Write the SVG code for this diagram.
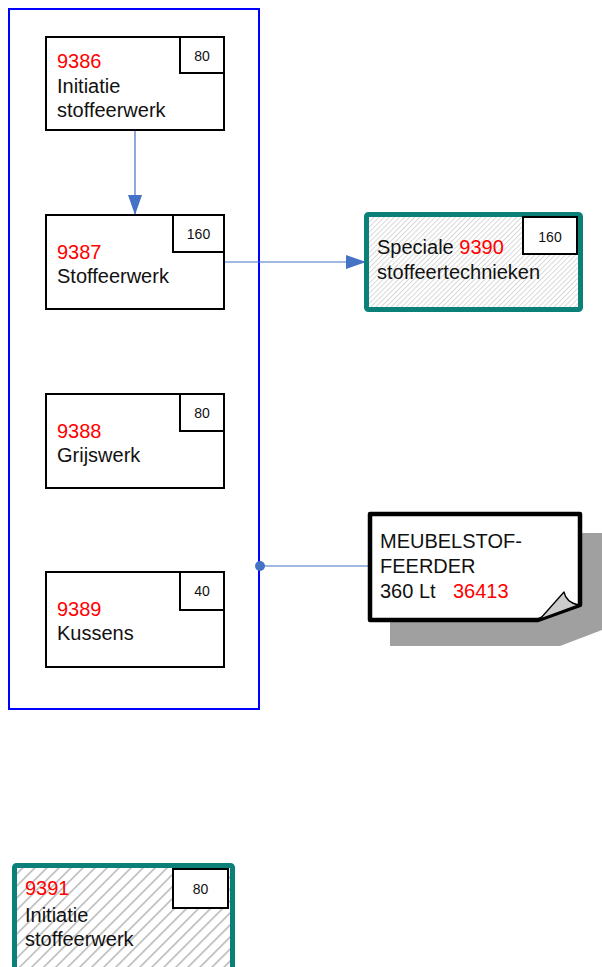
<svg xmlns="http://www.w3.org/2000/svg" width="602" height="967" viewBox="0 0 602 967">
<defs>
<pattern id="hatchFine" patternUnits="userSpaceOnUse" width="3.6" height="3.6" patternTransform="rotate(45)">
<rect width="3.6" height="3.6" fill="#ffffff"/>
<line x1="0" y1="0" x2="0" y2="3.6" stroke="#a0a0a0" stroke-width="0.8"/>
</pattern>
<pattern id="hatchWide" patternUnits="userSpaceOnUse" width="8.5" height="8.5" patternTransform="rotate(45)">
<rect width="8.5" height="8.5" fill="#ffffff"/>
<line x1="0" y1="0" x2="0" y2="8.5" stroke="#b4b4b4" stroke-width="3"/>
</pattern>
<marker id="arrow" viewBox="0 0 20 14" refX="20" refY="7" markerWidth="20" markerHeight="14" markerUnits="userSpaceOnUse" orient="auto">
<path d="M0,0 L20,7 L0,14 Z" fill="#4472c4"/>
</marker>
</defs>
<style>
text{font-family:"Liberation Sans",Arial,sans-serif;fill:#111}
.main{font-size:20px}
.small{font-size:14px;text-anchor:middle}
.red{fill:#ff0000}
.box{fill:#ffffff;stroke:#000;stroke-width:2}
.tag{fill:#ffffff;stroke:#000;stroke-width:2}
.teal{stroke:#0b8078;stroke-width:5}
.conn{stroke:#4472c4;stroke-width:1.2;fill:none}
</style>
<rect id="container" x="9" y="9" width="250" height="700" fill="none" stroke="#0000ff" stroke-width="2"/>
<g id="connectors">
<line class="conn" x1="135" y1="131" x2="135" y2="215" marker-end="url(#arrow)"/>
<line class="conn" x1="224" y1="262" x2="366" y2="262" marker-end="url(#arrow)"/>
<line class="conn" x1="259" y1="566" x2="370" y2="566"/>
<circle cx="260" cy="566" r="5" fill="#4472c4"/>
</g>
<g id="n9386">
<rect class="box" x="46" y="37" width="178" height="93"/>
<rect class="tag" x="180" y="37" width="44" height="36"/>
<text class="small" x="202" y="61">80</text>
<text class="main red" x="57" y="68">9386</text>
<text class="main" x="57" y="93">Initiatie</text>
<text class="main" x="57" y="117">stoffeerwerk</text>
</g>
<g id="n9387">
<rect class="box" x="46" y="215" width="178" height="94"/>
<rect class="tag" x="173" y="215" width="51" height="37"/>
<text class="small" x="198.5" y="239">160</text>
<text class="main red" x="57" y="259">9387</text>
<text class="main" x="57" y="283">Stoffeerwerk</text>
</g>
<g id="n9388">
<rect class="box" x="46" y="394" width="178" height="94"/>
<rect class="tag" x="180" y="394" width="44" height="37"/>
<text class="small" x="202" y="418">80</text>
<text class="main red" x="57" y="438">9388</text>
<text class="main" x="57" y="462">Grijswerk</text>
</g>
<g id="n9389">
<rect class="box" x="46" y="572" width="178" height="95"/>
<rect class="tag" x="180" y="572" width="44" height="38"/>
<text class="small" x="202" y="596">40</text>
<text class="main red" x="57" y="616">9389</text>
<text class="main" x="57" y="640">Kussens</text>
</g>
<g id="n9390">
<rect class="teal" x="366.5" y="214.5" width="214" height="95" rx="2" fill="url(#hatchFine)"/>
<rect class="tag" x="523" y="217" width="54" height="37"/>
<text class="small" x="550" y="242">160</text>
<text class="main" x="377" y="254">Speciale <tspan class="red">9390</tspan></text>
<text class="main" x="377" y="279">stoffeertechnieken</text>
</g>
<g id="note">
<path d="M390,533 H602 V630 L560,646 H390 Z" fill="#a0a0a0"/>
<path d="M370,514 H580 V605 L538,620 H370 Z" fill="#ffffff" stroke="#000" stroke-width="4.5" stroke-linejoin="round"/>
<path d="M540,619 L564,592 Q566,602 578,605 Z" fill="#cccccc" stroke="#000" stroke-width="1.3" stroke-linejoin="round"/>
<text class="main" x="380" y="548">MEUBELSTOF-</text>
<text class="main" x="380" y="573">FEERDER</text>
<text class="main" x="380" y="598">360 Lt</text>
<text class="main red" x="453" y="598">36413</text>
</g>
<g id="n9391">
<rect class="teal" x="14.5" y="865.5" width="218" height="110" rx="2" fill="url(#hatchWide)"/>
<rect class="tag" x="173" y="869" width="55" height="39"/>
<text class="small" x="200.5" y="894">80</text>
<text class="main red" x="25" y="895">9391</text>
<text class="main" x="25" y="922">Initiatie</text>
<text class="main" x="25" y="946">stoffeerwerk</text>
</g>
</svg>
